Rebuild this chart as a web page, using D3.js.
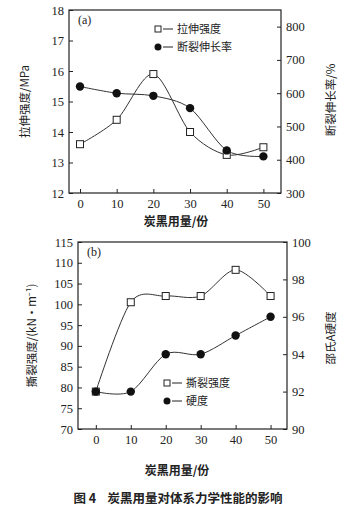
<!DOCTYPE html>
<html>
<head>
<meta charset="utf-8">
<script src="https://cdn.jsdelivr.net/npm/d3@7"></script>
<style>
body { margin: 0; background: #fff; }
svg text { fill: #222; }
</style>
</head>
<body>
<div id="chart"></div>
<script>
var width = 353;
var height = 513;

// data
var loading = [0, 10, 20, 30, 40, 50];
var tensileStrength = [13.6, 14.4, 15.9, 14.0, 13.25, 13.5];
var elongation = [620, 600, 592, 555, 428, 410];
var tearStrength = [79, 100.5, 102, 102, 108.3, 102];
var hardness = [92, 92, 94, 94, 95, 96];

var xTicks = [0, 10, 20, 30, 40, 50];
var yTicksA = [12, 13, 14, 15, 16, 17, 18];
var y2TicksA = [300, 400, 500, 600, 700, 800];
var yTicksB = [70, 75, 80, 85, 90, 95, 100, 105, 110, 115];
var y2TicksB = [90, 92, 94, 96, 98, 100];

var numFont = "'Liberation Serif', 'DejaVu Serif', serif";
var cjkFont = "'Noto Sans CJK SC', 'Noto Sans', sans-serif";
var ink = "#222";
var fmt = d3.format("d");

var svg = d3.select("#chart")
    .append("svg")
    .attr("width", width)
    .attr("height", height);

function drawPanel(cfg) {
    var x = d3.scaleLinear().domain(cfg.xDomain).range([cfg.left, cfg.right]);
    var y = d3.scaleLinear().domain(cfg.yDomain).range([cfg.bottom, cfg.top]);
    var y2 = d3.scaleLinear().domain(cfg.y2Domain).range([cfg.bottom, cfg.top]);

    var g = svg.append("g");

    // box
    g.append("rect")
        .attr("x", cfg.left)
        .attr("y", cfg.top)
        .attr("width", cfg.right - cfg.left)
        .attr("height", cfg.bottom - cfg.top)
        .attr("fill", "none")
        .attr("stroke", ink)
        .attr("stroke-width", 1.2);

    var xAxis = d3.axisBottom(x).tickValues(xTicks).tickFormat(fmt).tickSizeInner(-4).tickSizeOuter(0).tickPadding(6);
    var yAxis = d3.axisLeft(y).tickValues(cfg.yTicks).tickFormat(fmt).tickSizeInner(-4).tickSizeOuter(0).tickPadding(5);
    var y2Axis = d3.axisRight(y2).tickValues(cfg.y2Ticks).tickFormat(fmt).tickSizeInner(-4).tickSizeOuter(0).tickPadding(5);

    [
        [xAxis, "translate(0," + cfg.bottom + ")"],
        [yAxis, "translate(" + cfg.left + ",0)"],
        [y2Axis, "translate(" + cfg.right + ",0)"]
    ].forEach(function (a) {
        var ag = g.append("g")
            .attr("transform", a[1])
            .call(a[0]);
        ag.select(".domain").remove();
        ag.selectAll("line").attr("stroke", ink);
        ag.selectAll("text")
            .attr("font-family", numFont)
            .attr("font-size", 12.5)
            .attr("fill", ink);
    });

    // series lines
    var line1 = d3.line()
        .curve(d3.curveCardinal.tension(0.1))
        .x(function (d, i) { return x(loading[i]); })
        .y(function (d) { return y(d); });
    var line2 = d3.line()
        .curve(d3.curveCardinal.tension(0.1))
        .x(function (d, i) { return x(loading[i]); })
        .y(function (d) { return y2(d); });

    g.append("path")
        .attr("d", line1(cfg.s1))
        .attr("fill", "none")
        .attr("stroke", "#333")
        .attr("stroke-width", 1);
    g.append("path")
        .attr("d", line2(cfg.s2))
        .attr("fill", "none")
        .attr("stroke", "#333")
        .attr("stroke-width", 1);

    g.selectAll(".sq")
        .data(cfg.s1)
        .enter()
        .append("rect")
        .attr("x", function (d, i) { return x(loading[i]) - 3.5; })
        .attr("y", function (d) { return y(d) - 3.5; })
        .attr("width", 7)
        .attr("height", 7)
        .attr("fill", "#fff")
        .attr("stroke", ink)
        .attr("stroke-width", 1);

    g.selectAll(".dot")
        .data(cfg.s2)
        .enter()
        .append("circle")
        .attr("cx", function (d, i) { return x(loading[i]); })
        .attr("cy", function (d) { return y2(d); })
        .attr("r", 4.2)
        .attr("fill", "#111");

    // panel tag
    g.append("text")
        .attr("x", cfg.left + 9)
        .attr("y", cfg.top + 14)
        .attr("font-family", numFont)
        .attr("font-size", 12)
        .text(cfg.tag);

    // legend
    var lx = cfg.legendX, ly = cfg.legendY;
    g.append("rect")
        .attr("x", lx - 3)
        .attr("y", ly - 3)
        .attr("width", 6)
        .attr("height", 6)
        .attr("fill", "#fff")
        .attr("stroke", ink);
    g.append("line")
        .attr("x1", lx + 5).attr("x2", lx + 15)
        .attr("y1", ly).attr("y2", ly)
        .attr("stroke", ink);
    g.append("text")
        .attr("x", lx + 19)
        .attr("y", ly + 4)
        .attr("font-family", cjkFont)
        .attr("font-size", 11)
        .text(cfg.name1);
    g.append("circle")
        .attr("cx", lx)
        .attr("cy", ly + cfg.legendGap)
        .attr("r", 3.5)
        .attr("fill", "#111");
    g.append("line")
        .attr("x1", lx + 5).attr("x2", lx + 15)
        .attr("y1", ly + cfg.legendGap).attr("y2", ly + cfg.legendGap)
        .attr("stroke", ink);
    g.append("text")
        .attr("x", lx + 19)
        .attr("y", ly + cfg.legendGap + 4)
        .attr("font-family", cjkFont)
        .attr("font-size", 11)
        .text(cfg.name2);

    // axis titles
    g.append("text")
        .attr("transform", "translate(" + cfg.yLabelX + "," + ((cfg.top + cfg.bottom) / 2) + ") rotate(-90)")
        .attr("text-anchor", "middle")
        .attr("font-family", cjkFont)
        .attr("font-size", 11.5)
        .text(cfg.yLabel);
    g.append("text")
        .attr("transform", "translate(" + cfg.y2LabelX + "," + cfg.y2LabelY + ") rotate(-90)")
        .attr("text-anchor", "middle")
        .attr("font-family", cjkFont)
        .attr("font-size", 11.5)
        .text(cfg.y2Label);
    g.append("text")
        .attr("x", cfg.xLabelX)
        .attr("y", cfg.xLabelY)
        .attr("text-anchor", "middle")
        .attr("font-family", cjkFont)
        .attr("font-size", 12)
        .attr("font-weight", "bold")
        .text("炭黑用量/份");
}

drawPanel({
    left: 69, right: 281, top: 10, bottom: 193,
    xDomain: [-3, 54.8], yDomain: [12, 18], y2Domain: [300, 850],
    yTicks: yTicksA, y2Ticks: y2TicksA,
    s1: tensileStrength, s2: elongation,
    tag: "(a)",
    legendX: 158, legendY: 29, legendGap: 18,
    name1: "拉伸强度", name2: "断裂伸长率",
    yLabel: "拉伸强度/MPa", yLabelX: 29,
    y2Label: "断裂伸长率/%", y2LabelX: 335, y2LabelY: 100,
    xLabelX: 176, xLabelY: 226
});

drawPanel({
    left: 78, right: 287, top: 242, bottom: 429,
    xDomain: [-5.1, 54.7], yDomain: [70, 115], y2Domain: [90, 100],
    yTicks: yTicksB, y2Ticks: y2TicksB,
    s1: tearStrength, s2: hardness,
    tag: "(b)",
    legendX: 167, legendY: 383, legendGap: 18,
    name1: "撕裂强度", name2: "硬度",
    yLabel: "撕裂强度/(kN·m⁻¹)", yLabelX: 36,
    y2Label: "邵氏A硬度", y2LabelX: 335, y2LabelY: 338,
    xLabelX: 177, xLabelY: 475
});

svg.append("text")
    .attr("x", 178)
    .attr("y", 503)
    .attr("text-anchor", "middle")
    .attr("font-family", cjkFont)
    .attr("font-size", 12.5)
    .attr("font-weight", "bold")
    .attr("xml:space", "preserve")
    .text("图 4    炭黑用量对体系力学性能的影响");
</script>
</body>
</html>
